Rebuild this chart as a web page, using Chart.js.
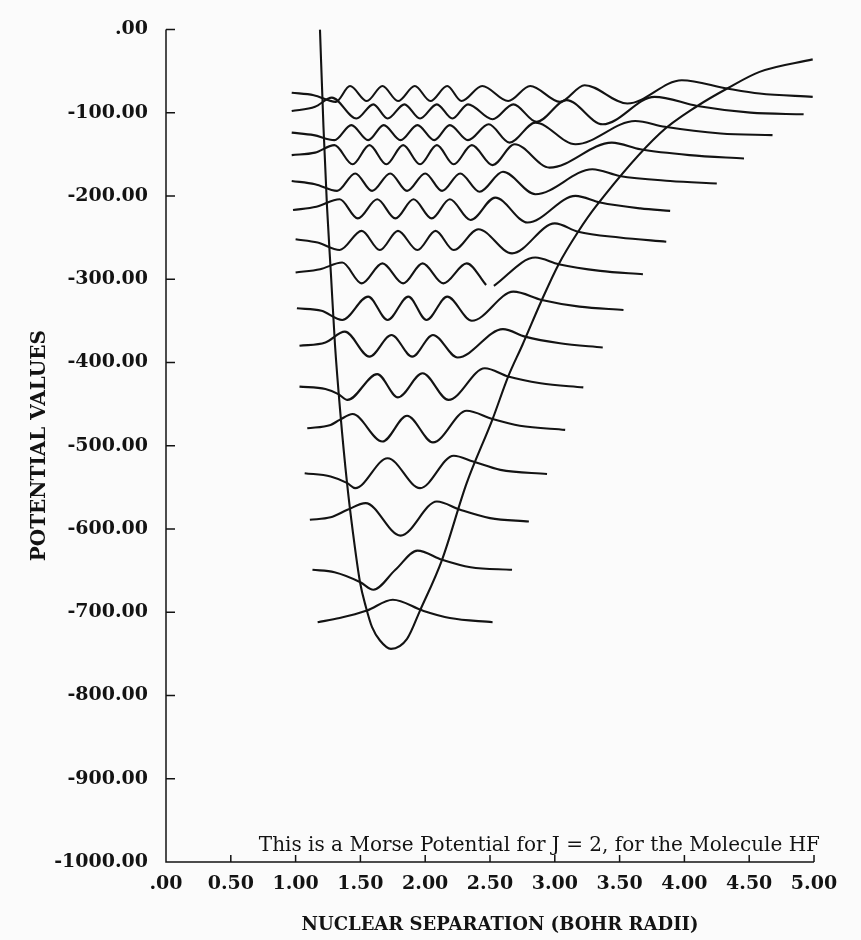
<!DOCTYPE html>
<html>
<head>
<meta charset="utf-8">
<title>Morse Potential HF</title>
<script src="https://cdn.jsdelivr.net/npm/chart.js@4.4.1/dist/chart.umd.min.js"></script>
<style>
  body { margin: 0; background: #fbfbfb; }
  #box { width: 861px; height: 940px; }
</style>
</head>
<body>
<div id="box"><canvas id="morseChart"></canvas></div>
<script>
// axis ticks
const xTicks = [0, 0.5, 1, 1.5, 2, 2.5, 3, 3.5, 4, 4.5, 5];
const yTicks = [0, -100, -200, -300, -400, -500, -600, -700, -800, -900, -1000];

// Morse potential
const morse = [[1.188,0],[1.215,-117],[1.242,-212],[1.273,-295],[1.304,-379],[1.346,-462],[1.397,-545],[1.443,-605],
  [1.497,-664],[1.543,-694],[1.590,-718],[1.651,-734],[1.736,-744],[1.86,-732],[1.96,-698],[2.13,-637],[2.32,-545],
  [2.52,-468],[2.64,-417],[2.75,-379],[2.90,-325],[3.03,-282],[3.18,-243],[3.32,-212],[3.81,-125],[4.10,-92],
  [4.33,-71],[4.58,-51],[4.99,-36]];

// wavefunctions drawn on their levels, v = 0 at the bottom (null = break in the printed line)
const psi0 = [[1.17,-712],[1.34,-707],[1.55,-698],[1.75,-685],[1.98,-698],[2.19,-707],[2.52,-712]];
const psi1 = [[1.13,-649],[1.30,-652],[1.50,-664],[1.60,-673],[1.77,-649],[1.94,-626],[2.13,-637],[2.35,-646],[2.67,-649]];
const psi2 = [[1.11,-589],[1.27,-586],[1.40,-577],[1.54,-569],[1.81,-608],[2.09,-567],[2.27,-577],[2.50,-587],[2.80,-591]];
const psi3 = [[1.07,-533],[1.27,-537],[1.40,-545],[1.46,-551],[1.71,-515],[1.96,-551],[2.22,-512],[2.37,-519],[2.58,-529],[2.94,-534]];
const psi4 = [[1.09,-479],[1.27,-475],[1.34,-469],[1.44,-462],[1.67,-495],[1.86,-464],[2.06,-496],[2.32,-458],[2.52,-468],[2.73,-476],[3.08,-481]];
const psi5 = [[1.03,-429],[1.23,-432],[1.33,-438],[1.40,-445],[1.63,-414],[1.79,-442],[1.98,-413],[2.18,-445],[2.46,-407],[2.64,-417],[2.89,-425],[3.22,-430]];
const psi6 = [[1.03,-380],[1.23,-376],[1.38,-363],[1.57,-393],[1.74,-367],[1.90,-393],[2.06,-367],[2.25,-394],[2.60,-360],[2.77,-369],[3.04,-377],[3.37,-382]];
const psi7 = [[1.01,-335],[1.20,-338],[1.36,-349],[1.56,-321],[1.71,-349],[1.87,-321],[2.01,-349],[2.17,-321],[2.36,-350],[2.68,-315],[2.90,-325],[3.19,-333],[3.53,-337]];
const psi8 = [[1.00,-292],[1.19,-288],[1.36,-280],[1.51,-305],[1.67,-281],[1.83,-305],[1.98,-281],[2.14,-305],[2.32,-281],[2.47,-307],[2.50,null],[2.53,-308],[2.85,-274],[3.03,-282],[3.35,-290],[3.68,-294]];
const psi9 = [[1.00,-252],[1.17,-256],[1.34,-265],[1.51,-242],[1.65,-265],[1.79,-242],[1.94,-265],[2.08,-242],[2.22,-265],[2.41,-240],[2.67,-269],[3.00,-233],[3.18,-243],[3.50,-250],[3.86,-255]];
const psi10 = [[0.98,-217],[1.16,-213],[1.34,-204],[1.48,-227],[1.63,-204],[1.77,-227],[1.91,-204],[2.05,-227],[2.19,-204],[2.35,-229],[2.54,-202],[2.79,-232],[3.16,-200],[3.35,-208],[3.66,-215],[3.89,-218]];
const psi11 = [[0.97,-182],[1.15,-186],[1.32,-194],[1.46,-173],[1.59,-194],[1.73,-173],[1.86,-194],[2.00,-173],[2.13,-194],[2.27,-173],[2.42,-195],[2.60,-171],[2.85,-198],[3.29,-168],[3.50,-176],[3.89,-182],[4.25,-185]];
const psi12 = [[0.97,-151],[1.15,-148],[1.30,-139],[1.44,-162],[1.57,-139],[1.70,-162],[1.83,-139],[1.96,-162],[2.09,-139],[2.22,-162],[2.36,-139],[2.52,-163],[2.69,-138],[2.96,-166],[3.44,-136],[3.66,-144],[4.04,-151],[4.46,-155]];
const psi13 = [[0.97,-124],[1.14,-127],[1.30,-133],[1.43,-115],[1.56,-133],[1.68,-115],[1.81,-133],[1.94,-115],[2.07,-133],[2.19,-115],[2.33,-133],[2.49,-114],[2.65,-136],[2.85,-112],[3.16,-138],[3.62,-110],[3.85,-117],[4.28,-125],[4.68,-127]];
const psi14 = [[0.97,-98],[1.15,-93],[1.28,-82],[1.47,-107],[1.60,-90],[1.71,-107],[1.84,-90],[1.96,-107],[2.09,-90],[2.21,-107],[2.33,-90],[2.52,-108],[2.68,-90],[2.86,-111],[3.09,-85],[3.37,-114],[3.77,-81],[4.10,-92],[4.51,-100],[4.92,-102]];
const psi15 = [[0.97,-76],[1.14,-79],[1.31,-87],[1.42,-68],[1.55,-86],[1.67,-68],[1.79,-86],[1.92,-68],[2.04,-86],[2.17,-68],[2.28,-86],[2.44,-68],[2.64,-86],[2.81,-68],[3.04,-87],[3.23,-67],[3.56,-89],[3.98,-61],[4.33,-71],[4.58,-77],[4.99,-81]];

const levels = [psi0, psi1, psi2, psi3, psi4, psi5, psi6, psi7, psi8, psi9, psi10, psi11, psi12, psi13, psi14, psi15];

const ink = '#131313';
const serif = "'DejaVu Serif', serif";
const note = 'This is a Morse Potential for J = 2, for the Molecule HF';

function curve(points) {
  return {
    data: points.map(p => ({ x: p[0], y: p[1] })),
    borderColor: ink,
    borderWidth: 2.1,
    pointRadius: 0,
    fill: false,
    spanGaps: false,
    cubicInterpolationMode: 'monotone'
  };
}

// axis lines, inward tick marks and the text that is not part of the scales
const decor = {
  id: 'decor',
  afterDraw(chart) {
    const { ctx, scales: { x, y } } = chart;
    ctx.save();
    ctx.strokeStyle = ink;
    ctx.lineWidth = 1.5;
    ctx.beginPath();
    ctx.moveTo(x.left, y.top);
    ctx.lineTo(x.left, y.bottom);
    ctx.lineTo(x.right, y.bottom);
    xTicks.forEach(v => {
      const px = x.getPixelForValue(v);
      ctx.moveTo(px, y.bottom);
      ctx.lineTo(px, y.bottom - 7);
    });
    yTicks.forEach(v => {
      const py = y.getPixelForValue(v);
      ctx.moveTo(x.left, py);
      ctx.lineTo(x.left + 9, py);
    });
    ctx.stroke();

    ctx.fillStyle = ink;
    ctx.font = '20px ' + serif;
    ctx.textAlign = 'right';
    ctx.textBaseline = 'middle';
    ctx.fillText(note, x.getPixelForValue(5) + 6, y.getPixelForValue(-980));

    ctx.font = 'bold 18px ' + serif;
    ctx.textAlign = 'center';
    ctx.fillText('NUCLEAR SEPARATION (BOHR RADII)', 500, 925);
    ctx.restore();
  }
};

new Chart(document.getElementById('morseChart'), {
  type: 'line',
  data: {
    datasets: [curve(morse)].concat(levels.map(curve))
  },
  options: {
    responsive: true,
    maintainAspectRatio: false,
    animation: false,
    layout: { padding: { top: 22, right: 47, left: 0, bottom: 0 } },
    plugins: { legend: { display: false }, tooltip: { enabled: false } },
    scales: {
      x: {
        type: 'linear',
        min: 0,
        max: 5,
        afterBuildTicks: s => { s.ticks = xTicks.map(v => ({ value: v })); },
        afterFit: s => { s.height = 78; },
        grid: { display: false, drawTicks: false },
        border: { display: false },
        ticks: {
          padding: 11,
          color: ink,
          font: { family: serif, size: 19, weight: 'bold' },
          callback: v => v === 0 ? '.00' : v.toFixed(2)
        }
      },
      y: {
        type: 'linear',
        min: -1000,
        max: 0,
        afterBuildTicks: s => { s.ticks = yTicks.map(v => ({ value: v })); },
        afterFit: s => { s.width = 166; },
        grid: { display: false, drawTicks: false },
        border: { display: false },
        title: {
          display: true,
          text: 'POTENTIAL VALUES',
          color: ink,
          font: { family: serif, size: 20, weight: 'bold' },
          padding: { top: 28, bottom: 0 }
        },
        ticks: {
          padding: 18,
          color: ink,
          font: { family: serif, size: 19, weight: 'bold' },
          callback: v => v === 0 ? '.00' : v.toFixed(2)
        }
      }
    }
  },
  plugins: [decor]
});
</script>
</body>
</html>
